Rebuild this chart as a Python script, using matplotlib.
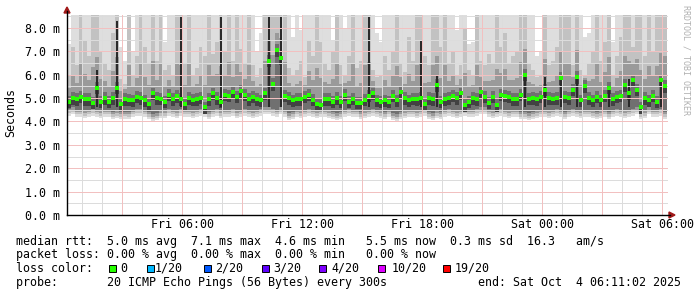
import matplotlib
matplotlib.use("Agg")
import matplotlib.pyplot as plt
from matplotlib.patches import Polygon, Rectangle
from matplotlib.lines import Line2D
import numpy as np

# time axis: hours since Fri 00:00, one sample every 12 min
T0 = 0.35
DT = 0.2

# median rtt (ms)
med = [4.85, 5.0, 4.95, 5.05, 4.95, 4.95, 4.8, 5.45, 4.85, 5.0, 4.85, 5.0, 5.45, 4.75, 4.95, 4.92, 4.9, 5.05, 5.0, 4.9, 4.75, 5.2, 5.0, 4.98, 4.85,
       5.15, 4.95, 5.08, 4.95, 4.75, 5.0, 4.92, 4.95, 5.02, 4.6, 4.95, 5.2, 5.0, 4.85, 5.15, 5.1, 5.25, 5.05, 5.3, 5.15, 4.95, 5.05, 4.95, 4.9, 5.2,
       6.6, 5.6, 7.05, 6.7, 5.1, 5.0, 4.9, 4.95, 4.95, 5.05, 5.15, 4.92, 4.75, 4.72, 4.95, 4.95, 4.85, 5.0, 4.85, 5.15, 4.85, 4.98, 4.8, 4.8, 4.92,
       5.1, 5.2, 4.9, 4.85, 4.9, 4.85, 5.1, 4.9, 5.25, 5.0, 4.9, 4.98, 4.95, 5.0, 4.75, 5.0, 4.95, 5.55, 4.85, 4.95, 5.0, 5.1, 5.0, 5.2, 4.7,
       4.85, 5.0, 4.95, 5.25, 5.05, 4.8, 5.05, 4.7, 5.15, 5.1, 5.05, 4.95, 4.95, 5.15, 6.0, 4.98, 5.0, 4.95, 5.05, 5.35, 5.0, 4.98, 5.0, 5.85, 5.05,
       5.0, 5.35, 5.9, 4.9, 5.5, 5.0, 4.9, 5.05, 4.9, 5.1, 5.45, 4.95, 5.05, 5.1, 5.55, 5.2, 5.75, 5.35, 4.6, 5.0, 4.9, 5.1, 4.85, 5.75, 5.5]

# lowest ping of each step (bottom of the smoke)
lo = [4.25, 4.3, 4.2, 4.2, 4.15, 4.2, 4.25, 4.2, 4.15, 4.2, 4.2, 4.1, 4.15, 4.1, 4.12, 4.1, 4.2, 4.25, 4.25, 4.2, 4.1, 4.0, 4.05, 4.15, 4.15,
      4.25, 4.2, 4.15, 4.25, 4.2, 4.2, 4.15, 4.2, 4.25, 4.2, 4.1, 4.2, 4.25, 4.15, 4.2, 4.2, 4.25, 4.15, 4.2, 4.25, 4.2, 4.15, 4.2, 4.25, 4.3,
      4.3, 4.25, 4.2, 4.3, 4.2, 4.05, 4.1, 4.2, 4.15, 4.2, 4.25, 4.2, 4.15, 4.2, 4.2, 4.15, 4.1, 4.05, 4.1, 4.2, 4.25, 4.2, 4.2, 4.1, 4.15,
      4.2, 4.25, 4.2, 4.15, 4.1, 4.2, 4.05, 4.0, 4.1, 4.15, 4.2, 4.2, 4.15, 4.2, 4.25, 4.1, 4.05, 4.15, 4.1, 4.2, 4.25, 4.2, 4.15, 4.2, 4.25,
      4.2, 4.2, 4.25, 4.3, 4.3, 4.2, 4.15, 4.2, 4.25, 4.2, 4.15, 4.2, 4.2, 4.1, 4.1, 4.05, 4.1, 4.15, 4.2, 4.2, 4.15, 4.2, 4.25, 4.2, 4.1,
      4.2, 4.25, 4.2, 4.15, 4.2, 4.2, 4.15, 4.1, 4.15, 4.2, 4.1, 4.2, 4.25, 4.2, 4.15, 4.2, 4.25, 4.3, 4.1, 4.15, 4.3, 4.2, 4.2, 4.25, 4.1]

# highest ping of each step (top of the light smoke, >8.55 is off the chart)
hi = [7.3, 8.6, 8.6, 8.6, 8.6, 8.6, 8.6, 8.6, 8.6, 8.6, 8.6, 8.6, 8.6, 7.2, 6.6, 8.6, 7.0, 8.6, 8.6, 8.6, 8.6, 8.6, 8.6, 8.6, 7.4,
      8.6, 8.6, 8.6, 8.6, 8.6, 7.6, 8.6, 8.6, 8.6, 8.6, 8.6, 8.6, 8.6, 8.6, 8.6, 8.6, 8.6, 8.6, 8.6, 8.6, 8.6, 8.6, 7.0, 7.8, 8.6,
      8.6, 8.6, 8.6, 8.6, 8.6, 8.6, 7.6, 8.6, 7.9, 8.6, 8.6, 8.6, 7.2, 8.6, 8.6, 8.6, 7.5, 8.6, 8.6, 8.0, 8.6, 8.6, 8.6, 8.6, 8.6,
      8.6, 8.6, 7.8, 7.4, 8.6, 8.6, 8.6, 8.6, 8.6, 8.6, 8.6, 8.6, 8.6, 8.6, 8.6, 8.6, 8.6, 8.6, 8.6, 8.6, 8.6, 8.6, 7.9, 8.6, 8.6,
      7.3, 7.4, 8.6, 8.6, 8.6, 8.6, 8.6, 8.6, 8.6, 8.6, 8.6, 8.6, 8.6, 8.6, 8.6, 8.6, 8.6, 6.8, 7.0, 8.6, 8.6, 8.6, 8.6, 8.6, 8.6,
      8.6, 8.6, 8.6, 8.6, 7.6, 7.8, 8.6, 8.6, 8.6, 8.6, 8.6, 7.4, 8.6, 8.6, 8.6, 8.6, 8.6, 8.6, 8.6, 8.6, 8.6, 8.6, 8.6, 8.6, 8.6]

# upper ping band (top of the medium grey smoke)
up = [6.0, 7.2, 6.4, 8.6, 7.5, 6.8, 8.6, 8.6, 7.0, 6.5, 6.2, 7.8, 8.6, 5.8, 5.6, 8.6, 6.0, 6.8, 8.6, 7.2, 6.5, 8.6, 6.6, 8.6, 6.2,
      6.4, 6.0, 8.6, 8.6, 6.5, 8.6, 6.0, 6.3, 7.2, 6.8, 8.6, 6.9, 7.4, 8.6, 7.0, 8.6, 6.6, 8.6, 7.1, 6.5, 8.6, 6.4, 5.9, 6.3, 8.6,
      8.6, 8.6, 8.6, 8.6, 8.6, 6.3, 6.0, 6.2, 6.6, 5.9, 7.5, 6.8, 8.6, 7.4, 6.5, 6.2, 7.0, 8.6, 6.4, 6.0, 6.8, 8.6, 6.3, 6.6, 8.6,
      8.6, 6.2, 5.9, 6.0, 6.8, 6.2, 7.0, 8.6, 6.5, 6.1, 7.6, 6.6, 8.6, 8.6, 6.8, 6.4, 8.6, 8.6, 7.2, 8.6, 6.5, 7.0, 6.0, 6.4, 8.0,
      6.2, 6.0, 8.6, 6.6, 6.4, 6.9, 6.5, 8.6, 7.2, 7.8, 6.5, 6.8, 7.0, 8.6, 8.6, 6.5, 6.2, 5.9, 6.0, 8.6, 6.4, 6.6, 7.2, 8.6, 8.6,
      8.6, 6.4, 8.6, 6.2, 6.0, 6.5, 7.0, 8.6, 6.6, 7.4, 8.6, 6.0, 6.8, 7.6, 8.6, 8.6, 7.2, 8.6, 8.6, 6.8, 8.6, 7.0, 8.6, 8.6, 8.6]

# dark streaks (hours, top in ms)
spike_h = [1.75, 2.75, 5.95, 7.95, 10.35, 10.95, 15.35, 17.95, 18.75, 23.15, 24.15, 24.95, 25.75, 27.35, 28.35, 29.95]
spike_top = [6.2, 8.3, 8.5, 8.5, 8.5, 8.5, 8.5, 7.5, 6.0, 6.05, 5.9, 5.95, 6.0, 5.5, 5.8, 5.8]

xtick_h = [6, 12, 18, 24, 30]
xtick_lab = ["Fri 06:00", "Fri 12:00", "Fri 18:00", "Sat 00:00", "Sat 06:00"]
ytick_ms = [0, 1, 2, 3, 4, 5, 6, 7, 8]

loss_lab = ["0", "1/20", "2/20", "3/20", "4/20", "10/20", "19/20"]
loss_col = ["#26ff00", "#00b8ff", "#0059ff", "#5e00ff", "#7e00ff", "#dd00ff", "#ff0000"]
loss_box_px = [109, 147, 204, 262, 319, 378, 443]
loss_lab_px = [120, 155, 215, 273, 331, 392, 455]

lines = [
    "median rtt:  5.0 ms avg  7.1 ms max  4.6 ms min   5.5 ms now  0.3 ms sd  16.3   am/s",
    "packet loss: 0.00 % avg  0.00 % max  0.00 % min   0.00 % now",
]

W, H = 697, 297
MONO = "DejaVu Sans Mono"
FS = 8.4


def P(x, y):
    return (x / W, 1 - y / H)


fig = plt.figure(figsize=(W / 100, H / 100), dpi=100)
ax = fig.add_axes([67 / W, 1 - 215 / H, (668 - 67) / W, 200 / H])

t = T0 + DT * np.arange(len(med))
med = np.array(med)
lo = np.array(lo)
hi = np.array(hi)
up = np.array(up)


def band(bottom, top, color, z):
    top = np.maximum(top, bottom)
    ax.bar(t, top - bottom, bottom=bottom, width=DT, color=color,
           linewidth=0, zorder=z)


# smoke: lighter where the pings are spread, darker near the median
band(lo, hi, "#dedede", 1)
band(lo + 0.1, up, "#c2c2c2", 2)
band(lo + 0.2, np.minimum(up, med + 0.3 + 0.35 * (up - med - 0.3)), "#9a9a9a", 3)
band(lo + 0.3, med + 0.25, "#707070", 4)
band(med - 0.28, med + 0.05, "#424242", 5)
ax.bar(spike_h, np.array(spike_top) - 4.6, bottom=4.6, width=0.08,
       color="#2a2a2a", linewidth=0, zorder=5)

ax.scatter(t, med, marker="s", s=6.5, color="#26ff00", linewidths=0, zorder=8)

# grid (rrdtool dotted grid, drawn as pale 1px lines)
for v in np.arange(0.5, 8.55, 0.5):
    major = abs(v - round(v)) < 1e-6
    ax.axhline(v, color="#f2c0c0" if major else "#dcdcdc", lw=0.72,
               antialiased=False, zorder=6 + major * 0.5)
for h in range(1, 31):
    major = h % 3 == 0
    ax.axvline(h, color="#f2c0c0" if major else "#dcdcdc", lw=0.72,
               antialiased=False, zorder=6 + major * 0.5)

ax.set_xlim(0.25, 30.3)
ax.set_ylim(0, 8.55)
for s in ax.spines.values():
    s.set_visible(False)
ax.set_xticks(xtick_h)
ax.set_xticklabels(xtick_lab, fontfamily=MONO, fontsize=FS)
ax.set_yticks(ytick_ms)
ax.set_yticklabels([f"{v:.1f} m" for v in ytick_ms], fontfamily=MONO, fontsize=FS)
ax.tick_params(axis="x", length=0, pad=2)
ax.tick_params(axis="y", length=0, pad=5)

# axes with arrows
fig.add_artist(Line2D([67 / W, 670 / W], [1 - 215 / H] * 2, color="black", lw=1))
fig.add_artist(Line2D([67 / W] * 2, [1 - 215 / H, 1 - 11 / H], color="black", lw=1))
fig.add_artist(Polygon([P(64, 13), P(70, 13), P(67, 7)], closed=True,
                       transform=fig.transFigure, color="#a01818"))
fig.add_artist(Polygon([P(669, 212), P(669, 218), P(675, 215)], closed=True,
                       transform=fig.transFigure, color="#a01818"))

fig.text(*P(11, 113), "Seconds", rotation=90, ha="center", va="center",
         fontfamily=MONO, fontsize=FS)
fig.text(*P(686, 5), "RRDTOOL / TOBI OETIKER", rotation=-90, ha="center",
         va="top", fontfamily=MONO, fontsize=6, color="#b0b0b0")

# legend
fig.text(*P(16, 241), lines[0], ha="left", va="center", fontfamily=MONO, fontsize=FS)
fig.text(*P(16, 254.5), lines[1], ha="left", va="center", fontfamily=MONO, fontsize=FS)
fig.text(*P(16, 268.3), "loss color:", ha="left", va="center", fontfamily=MONO, fontsize=FS)
for bx, lx, lab, col in zip(loss_box_px, loss_lab_px, loss_lab, loss_col):
    fig.add_artist(Rectangle(P(bx, 272), 7 / W, 7 / H, transform=fig.transFigure,
                             facecolor=col, edgecolor="black", lw=0.7))
    fig.text(*P(lx, 268.3), lab, ha="left", va="center", fontfamily=MONO, fontsize=FS)
fig.text(*P(16, 282.3), "probe:       20 ICMP Echo Pings (56 Bytes) every 300s",
         ha="left", va="center", fontfamily=MONO, fontsize=FS)
fig.text(*P(478, 282.3), "end: Sat Oct  4 06:11:02 2025",
         ha="left", va="center", fontfamily=MONO, fontsize=FS)

fig.savefig("out.png", dpi=100, facecolor="white")
